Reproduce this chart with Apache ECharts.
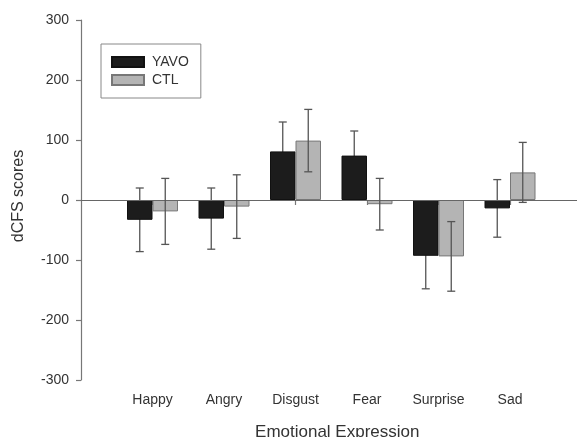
<!DOCTYPE html>
<html>
<head>
<meta charset="utf-8">
<script src="https://cdn.jsdelivr.net/npm/echarts@6/dist/echarts.min.js"></script>
<style>html,body{margin:0;padding:0;background:#fff;overflow:hidden;}#c{width:577px;height:437px;}</style>
</head>
<body>
<div id="c"></div>
<script>
var categories = ['', 'Happy', 'Angry', 'Disgust', 'Fear', 'Surprise', 'Sad', ''];
var yavoMean = [null, -33, -31, 81, 74, -93, -14, null];
var yavoErr  = [null, 53, 51, 49, 41, 55, 48, null];
var ctlMean  = [null, -19, -11, 99, -7, -94, 46, null];
var ctlErr   = [null, 55, 53, 52, 43, 58, 50, null];
var yTicks = { min: -300, max: 300, interval: 100 };

var BAR_W = 25.5;
var FONT = 'Liberation Sans, Arial, sans-serif';

function errData(means, errs) {
  var out = [];
  for (var i = 0; i < means.length; i++) {
    if (means[i] !== null) out.push([i, means[i] - errs[i], means[i] + errs[i]]);
  }
  return out;
}

function errRender(offset) {
  return function (params, api) {
    var lo = api.coord([api.value(0), api.value(1)]);
    var hi = api.coord([api.value(0), api.value(2)]);
    var x = lo[0] + offset;
    var cap = 4;
    var style = { stroke: '#555', lineWidth: 1.3, fill: null };
    return {
      type: 'group',
      children: [
        { type: 'line', shape: { x1: x, y1: lo[1], x2: x, y2: hi[1] }, style: style },
        { type: 'line', shape: { x1: x - cap, y1: lo[1], x2: x + cap, y2: lo[1] }, style: style },
        { type: 'line', shape: { x1: x - cap, y1: hi[1], x2: x + cap, y2: hi[1] }, style: style }
      ]
    };
  };
}

var chart = echarts.init(document.getElementById('c'));
chart.setOption({
  backgroundColor: '#fff',
  animation: false,
  textStyle: { fontFamily: FONT },
  grid: { left: 81, right: -4.5, top: 20, bottom: 57, containLabel: false, outerBoundsMode: 'none' },
  legend: {
    orient: 'vertical',
    left: 101, top: 44,
    padding: [11, 12, 11, 10],
    itemGap: 4,
    itemWidth: 32, itemHeight: 10,
    borderColor: '#888', borderWidth: 1,
    textStyle: { fontFamily: FONT, fontSize: 14, color: '#333', padding: [0, 0, 0, 3] },
    data: [
      { name: 'YAVO', icon: 'rect' },
      { name: 'CTL', icon: 'rect' }
    ]
  },
  xAxis: {
    type: 'category',
    data: categories,
    boundaryGap: false,
    name: 'Emotional Expression',
    nameLocation: 'middle',
    nameGap: 44,
    nameTextStyle: { fontFamily: FONT, fontSize: 17, color: '#333', padding: [0, 0, 0, 12] },
    axisLine: { lineStyle: { color: '#777', width: 1.2 } },
    axisTick: { show: true, length: 5, lineStyle: { color: '#777', width: 1.2 },
      interval: function (i, v) { return v !== ''; } },
    axisLabel: { fontFamily: FONT, fontSize: 14, color: '#333', margin: 13,
      interval: function (i, v) { return v !== ''; } },
    splitLine: { show: false }
  },
  yAxis: {
    type: 'value',
    min: yTicks.min, max: yTicks.max, interval: yTicks.interval,
    name: 'dCFS scores',
    nameLocation: 'middle',
    nameGap: 54,
    nameTextStyle: { fontFamily: FONT, fontSize: 16, color: '#333', padding: [0, 0, 0, 8] },
    axisLine: { show: true, lineStyle: { color: '#777', width: 1.2 } },
    axisTick: { show: true, length: 5, lineStyle: { color: '#777', width: 1.2 } },
    axisLabel: { fontFamily: FONT, fontSize: 14, color: '#333', margin: 12 },
    splitLine: { show: false }
  },
  series: [
    {
      name: 'YAVO', type: 'bar', data: yavoMean,
      barWidth: BAR_W, barGap: '0%',
      itemStyle: { color: '#1c1c1c', borderColor: '#111', borderWidth: 1 },
      markLine: {
        silent: true, symbol: 'none', label: { show: false },
        lineStyle: { color: '#666', width: 1.2, type: 'solid' },
        data: [{ yAxis: 0 }]
      },
      z: 2
    },
    {
      name: 'CTL', type: 'bar', data: ctlMean,
      barWidth: BAR_W, barGap: '0%',
      itemStyle: { color: '#b4b4b4', borderColor: '#777', borderWidth: 1 },
      z: 2
    },
    {
      type: 'custom', name: 'YAVO err', data: errData(yavoMean, yavoErr),
      renderItem: errRender(-BAR_W / 2), encode: { x: 0, y: [1, 2] }, z: 1, silent: true
    },
    {
      type: 'custom', name: 'CTL err', data: errData(ctlMean, ctlErr),
      renderItem: errRender(BAR_W / 2), encode: { x: 0, y: [1, 2] }, z: 5, silent: true
    }
  ]
});
</script>
</body>
</html>
